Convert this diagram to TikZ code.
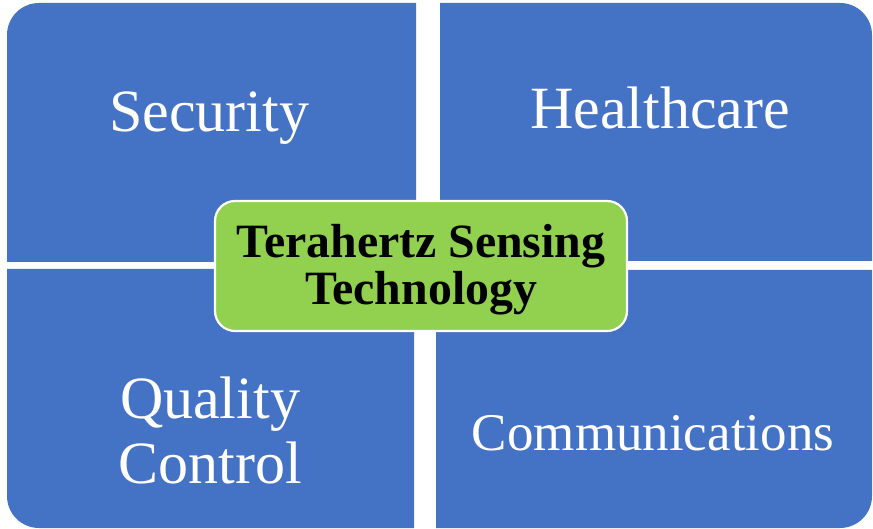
\documentclass[tikz,border=0pt]{standalone}
\usepackage{fontspec}
\setmainfont{Liberation Serif}
\definecolor{tileblue}{HTML}{4472C4}
\definecolor{hubgreen}{HTML}{92D050}
\begin{document}
\begin{tikzpicture}[x=1pt,y=-1pt,
  tile/.style={fill=tileblue,draw=none},
  tilelabel/.style={text=white,font=\fontsize{60}{62}\selectfont,anchor=base,inner sep=0pt},
  hub/.style={fill=hubgreen,draw=white,line width=2.2pt,rounded corners=20pt},
  hublabel/.style={text=black,font=\bfseries\fontsize{47.8}{48}\selectfont,anchor=base,inner sep=0pt}]
  \useasboundingbox (0,0) rectangle (873,529);
  % four quadrant tiles, each rounded at its outer corner
  \fill[tile] (416,3) -- (416,262) -- (7,262) [rounded corners=32pt] -- (7,3) [sharp corners] -- cycle;
  \fill[tile] (440,261) -- (440,3) [rounded corners=32pt] -- (872,3) [sharp corners] -- (872,261) -- cycle;
  \fill[tile] (7,269) -- (414,269) -- (414,528) [rounded corners=32pt] -- (7,528) [sharp corners] -- cycle;
  \fill[tile] (436,528) -- (436,270) -- (872,270) [rounded corners=32pt] -- (872,528) [sharp corners] -- cycle;
  % tile captions
  \node[tilelabel] (sec) at (209,132) {Security};
  \node[tilelabel] (hc) at (660,129) {Healthcare};
  \node[tilelabel] (qc1) at (210,418) {Quality};
  \node[tilelabel] (qc2) at (210,483) {Control};
  \node[tilelabel,font=\fontsize{53}{55}\selectfont] (com) at (653,450) {Communications};
  % central hub
  \draw[hub] (215,201) rectangle (627,331);
  \node[hublabel] (t1) at (421,258) {Terahertz Sensing};
  \node[hublabel] (t2) at (421,305) {Technology};
\end{tikzpicture}
\end{document}
